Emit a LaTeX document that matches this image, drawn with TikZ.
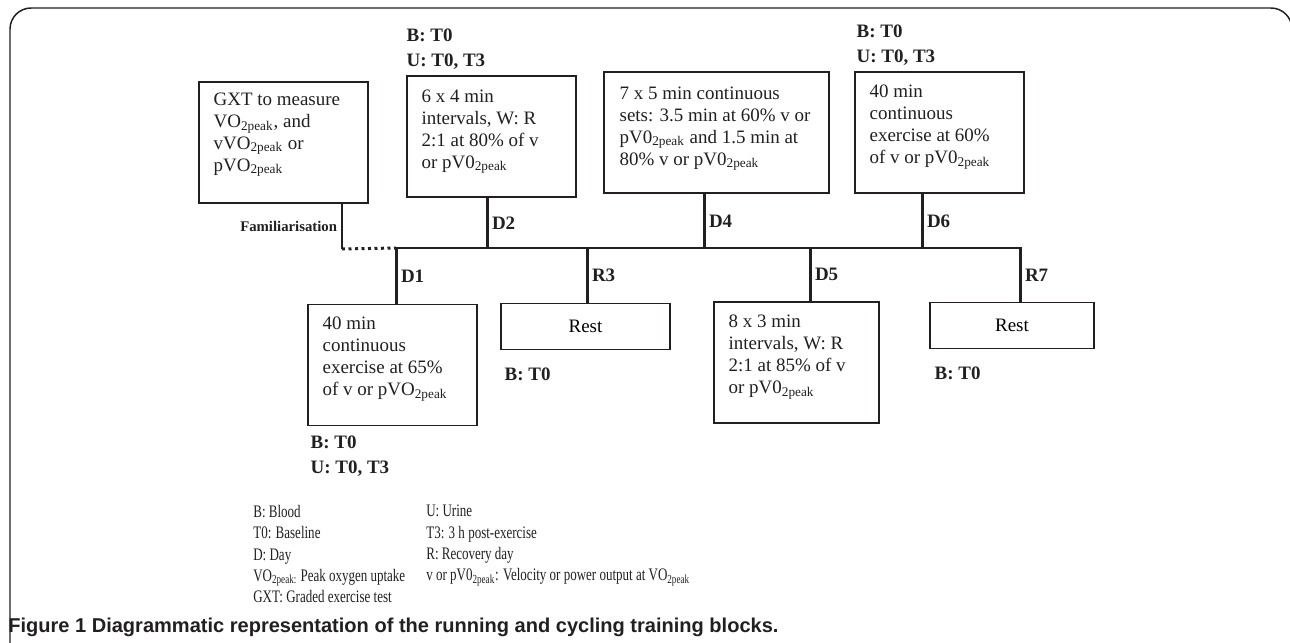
\documentclass[tikz,border=0pt]{standalone}
\usepackage{fontspec}
\setmainfont{Liberation Serif}
\newfontfamily\capfont{Liberation Sans}
\newfontfamily\legfont[FakeStretch=0.74]{Liberation Serif}
\usetikzlibrary{positioning}
\definecolor{mgray}{RGB}{35,31,32}
\newcommand{\pk}{\textsubscript{2peak}}

\begin{document}
\begin{tikzpicture}[x=0.02cm, y=-0.02cm,
    box/.style={draw=mgray, line width=0.85pt, minimum width=3.38cm, minimum height=2.42cm, inner sep=0pt},
    restbox/.style={box, minimum height=0.92cm, font=\fontsize{10.8}{12.5}\selectfont},
    boxtext/.style={inner sep=0pt, align=left, text=mgray, font=\fontsize{10.8}{12.5}\selectfont},
    tline/.style={line width=1.7pt, draw=mgray},
    lbl/.style={font=\fontsize{10.8}{12.5}\selectfont\bfseries, text=mgray, inner sep=2pt},
    sample/.style={font=\fontsize{10.8}{14.2}\selectfont\bfseries, text=mgray, align=left, inner sep=0pt},
    legend/.style={font=\legfont\fontsize{10}{12.1}\selectfont, text=mgray, align=left, inner sep=0pt},
]
\useasboundingbox (0,0) rectangle (1290,642);
\draw[mgray, line width=0.85pt, rounded corners=12] (10,650) -- (10,8) -- (1292,8) -- (1292,650);

% boxes above the time line
\node[box] (gxt) at (283.5,142.5) {};
\node[box] (d2box) at (491.5,136.5) {};
\node[box, minimum width=4.5cm] (d4box) at (716.5,132.5) {};
\node[box] (d6box) at (939.5,132.5) {};

% boxes below the time line
\node[box] (d1box) at (392.5,365) {};
\node[restbox] (r3box) at (585.5,326.5) {Rest};
\node[box, minimum width=3.3cm] (d5box) at (796.5,362.5) {};
\node[restbox, minimum width=3.28cm] (r7box) at (1012,325.5) {Rest};

\node[boxtext, below right=0.22cm and 0.3cm of gxt.north west] (gxttext) {GXT to measure\\VO\pk, and\\vVO\pk{} or\\pVO\pk};
\node[boxtext, below right=0.28cm and 0.3cm of d2box.north west] (d2text) {6 x 4 min\\intervals, W: R\\2:1 at 80\% of v\\or pV0\pk};
\node[boxtext, below right=0.3cm and 0.32cm of d4box.north west] (d4text) {7 x 5 min continuous\\sets: 3.5 min at 60\% v or\\pV0\pk{} and 1.5 min at\\80\% v or pV0\pk};
\node[boxtext, below right=0.26cm and 0.3cm of d6box.north west] (d6text) {40 min\\continuous\\exercise at 60\%\\of v or pV0\pk};
\node[boxtext, below right=0.26cm and 0.3cm of d1box.north west] (d1text) {40 min\\continuous\\exercise at 65\%\\of v or pVO\pk};
\node[boxtext, below right=0.26cm and 0.3cm of d5box.north west] (d5text) {8 x 3 min\\intervals, W: R\\2:1 at 85\% of v\\or pV0\pk};

\node[sample, above right=0.11cm and 0cm of d2box.north west] (sd2) {B: T0\\U: T0, T3};
\node[sample, above right=0.11cm and 0.04cm of d6box.north west] (sd6) {B: T0\\U: T0, T3};
\node[sample, below right=0.19cm and 0.06cm of d1box.south west] (sd1) {B: T0\\U: T0, T3};
\node[sample, below right=0.35cm and 0.08cm of r3box.south west] (sr3) {B: T0};
\node[sample, below right=0.35cm and 0.1cm of r7box.south west] (sr7) {B: T0};

% time line
\coordinate (tfam) at (342,249);
\coordinate (t1) at (396,248);
\coordinate (t2) at (487,248);
\coordinate (t3) at (587,248);
\coordinate (t4) at (704,248);
\coordinate (t5) at (810,248);
\coordinate (t6) at (922,248);
\coordinate (t7) at (1020,248);

\draw[tline] (t1) -- (t7) -- (r7box.north -| t7) node[lbl, midway, right] (lr7) {R7};
\draw[tline] (gxt.south -| tfam) -- node[lbl, left, font=\fontsize{8.4}{10}\selectfont\bfseries] (lfam) {Familiarisation} (tfam);
\draw[mgray, line width=1.7pt, dotted] (tfam) -- (t1);
\draw[tline] (d2box.south -| t2) -- node[lbl, right] (ld2) {D2} (t2);
\draw[tline] (d4box.south -| t4) -- node[lbl, right] (ld4) {D4} (t4);
\draw[tline] (d6box.south -| t6) -- node[lbl, right] (ld6) {D6} (t6);
\draw[tline] (t1) -- node[lbl, right] (ld1) {D1} (d1box.north -| t1);
\draw[tline] (t3) -- node[lbl, right] (lr3) {R3} (r3box.north -| t3);
\draw[tline] (t5) -- node[lbl, right] (ld5) {D5} (d5box.north -| t5);

\node[legend, anchor=north west] (legleft) at (253,505) {B: Blood\\T0: Baseline\\D: Day\\VO\textsubscript{2peak:} Peak oxygen uptake\\GXT: Graded exercise test};
\node[legend, anchor=north west] (legright) at (426,505) {U: Urine\\T3: 3 h post-exercise\\R: Recovery day\\v or pV0\pk: Velocity or power output at VO\pk};

\node[anchor=west, inner sep=0pt, text=mgray, font=\capfont\bfseries\fontsize{11.4}{13}\selectfont] (caption) at (8,627) {Figure 1 Diagrammatic representation of the running and cycling training blocks.};
\end{tikzpicture}
\end{document}
